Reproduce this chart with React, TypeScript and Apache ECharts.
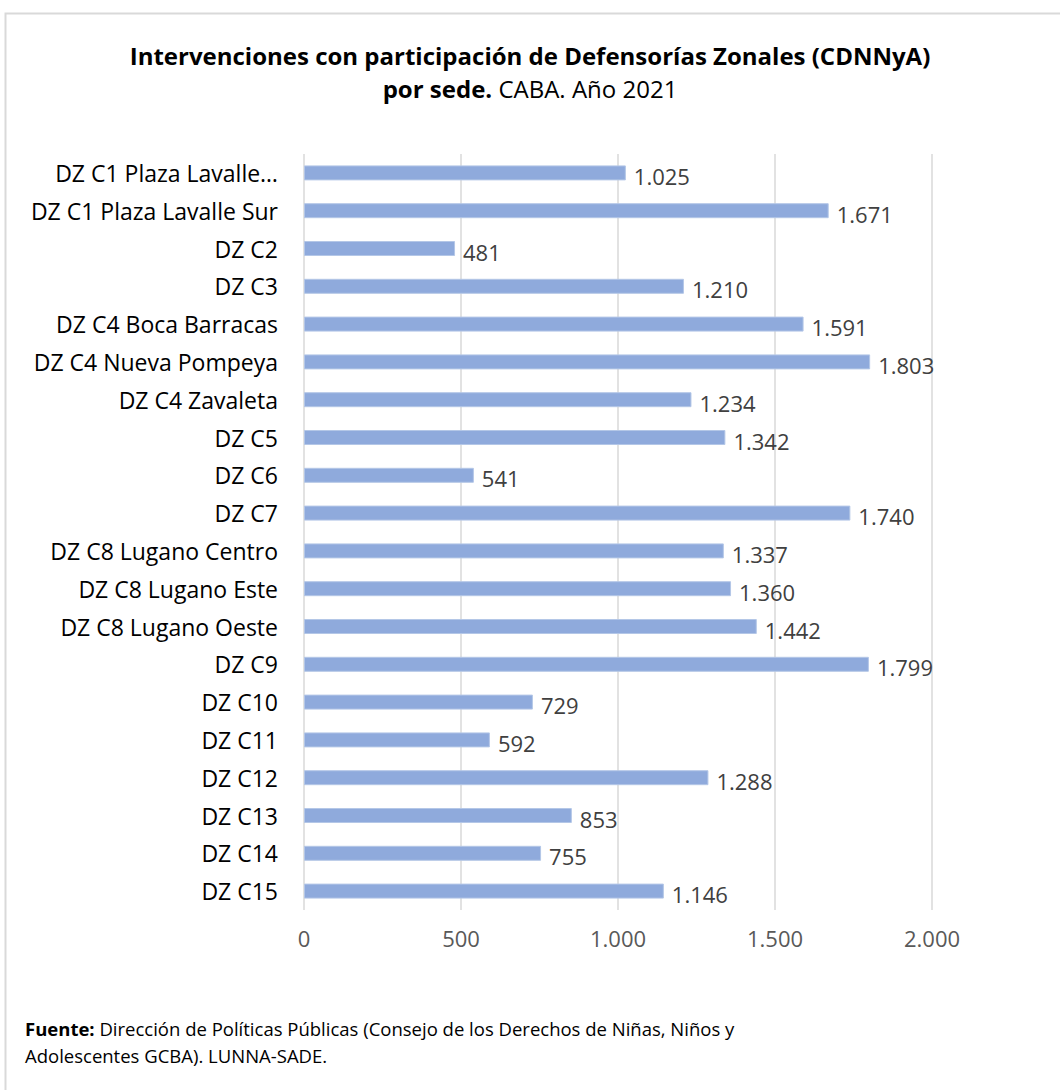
import React, { useEffect, useRef } from "react";
import * as echarts from "echarts";

const categories = [
  "DZ C1 Plaza Lavalle…",
  "DZ C1 Plaza Lavalle Sur",
  "DZ C2",
  "DZ C3",
  "DZ C4 Boca Barracas",
  "DZ C4 Nueva Pompeya",
  "DZ C4 Zavaleta",
  "DZ C5",
  "DZ C6",
  "DZ C7",
  "DZ C8 Lugano Centro",
  "DZ C8 Lugano Este",
  "DZ C8 Lugano Oeste",
  "DZ C9",
  "DZ C10",
  "DZ C11",
  "DZ C12",
  "DZ C13",
  "DZ C14",
  "DZ C15",
];

const values = [
  1025, 1671, 481, 1210, 1591, 1803, 1234, 1342, 541, 1740, 1337, 1360, 1442,
  1799, 729, 592, 1288, 853, 755, 1146,
];

const xTicks = [0, 500, 1000, 1500, 2000];

const FONT = "'Open Sans', 'Noto Sans', sans-serif";

function fmt(v: number): string {
  const n = Math.round(v);
  if (n < 1000) return String(n);
  const th = Math.floor(n / 1000);
  const rest = String(n % 1000).padStart(3, "0");
  return th + "." + rest;
}

export default function App() {
  const ref = useRef<HTMLDivElement>(null);
  useEffect(() => {
    document.body.style.margin = "0";
    const chart = echarts.init(ref.current!, null, { renderer: "svg" });
    chart.setOption({
      animation: false,
      backgroundColor: "#ffffff",
      textStyle: { fontFamily: FONT },
      title: {
        left: "center",
        top: 34,
        text: "{b|Intervenciones con participación de Defensorías Zonales (CDNNyA)}\n{b|por sede.}{n| CABA. Año 2021}",
        textStyle: {
          rich: {
            b: { fontFamily: FONT, fontSize: 24, fontWeight: "bold", color: "#000000", lineHeight: 33 },
            n: { fontFamily: FONT, fontSize: 24, fontWeight: "normal", color: "#000000", lineHeight: 33 },
          },
        },
      },
      grid: { left: 304, right: 128, top: 154, bottom: 180, containLabel: false },
      xAxis: {
        type: "value",
        min: xTicks[0],
        max: xTicks[xTicks.length - 1],
        interval: 500,
        axisLine: { show: false },
        axisTick: { show: false },
        splitLine: { show: true, lineStyle: { color: "#d9d9d9", width: 1.5 } },
        axisLabel: {
          margin: 17,
          fontFamily: FONT,
          fontSize: 22,
          color: "#595959",
          formatter: (v: number) => fmt(v),
        },
      },
      yAxis: {
        type: "category",
        inverse: true,
        data: categories,
        axisLine: { show: false },
        axisTick: { show: false },
        axisLabel: { margin: 26, fontFamily: FONT, fontSize: 23, color: "#000000" },
      },
      series: [
        {
          type: "bar",
          data: values,
          barWidth: 15,
          itemStyle: { color: "#8FAADC", borderColor: "#B4C7E7", borderWidth: 1 },
          label: {
            show: true,
            position: "right",
            distance: 8,
            offset: [0, 3],
            fontFamily: FONT,
            fontSize: 22,
            color: "#404040",
            formatter: (p: any) => fmt(p.value),
          },
        },
      ],
      graphic: [
        {
          type: "rect",
          shape: { x: 5.5, y: 13.5, width: 1100, height: 1100 },
          style: { fill: "none", stroke: "#d9d9d9", lineWidth: 2 },
          silent: true,
        },
        {
          type: "text",
          left: 25,
          top: 1019,
          style: {
            text: "{b|Fuente:}{n| Dirección de Políticas Públicas (Consejo de los Derechos de Niñas, Niños y}\n{n|Adolescentes GCBA). LUNNA-SADE.}",
            rich: {
              b: { fontFamily: FONT, fontSize: 18.5, fontWeight: "bold", fill: "#000000", lineHeight: 27 },
              n: { fontFamily: FONT, fontSize: 18.5, fontWeight: "normal", fill: "#000000", lineHeight: 27 },
            },
          },
        },
      ],
    });
    return () => chart.dispose();
  }, []);
  return (
    <div
      ref={ref}
      style={{ position: "absolute", left: 0, top: 0, width: 1060, height: 1090 }}
    />
  );
}
